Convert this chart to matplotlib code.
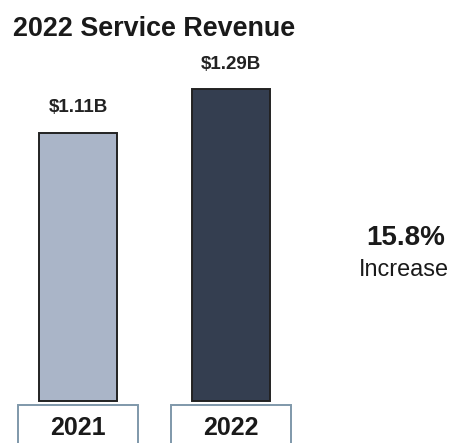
import matplotlib
matplotlib.use("Agg")
import matplotlib.pyplot as plt
from matplotlib.patches import Rectangle

plt.rcParams['font.family'] = ['Liberation Sans', 'DejaVu Sans']

title = "2022 Service Revenue"
categories = ["2021", "2022"]
values = [1.11, 1.29]
value_labels = ["$1.11B", "$1.29B"]
bar_colors = ["#aab5c8", "#343e50"]
change_pct = "15.8%"
change_word = "Increase"

fig = plt.figure(figsize=(4.56, 4.43), dpi=100)
ax = fig.add_axes([0, 0, 1, 1])
ax.set_xlim(-0.51, 2.47)
ax.set_ylim(-0.1736, 1.658)
ax.axis('off')

x = list(range(len(categories)))
ax.bar(x, values, width=0.51, color=bar_colors, edgecolor="#222222", linewidth=1.4)
for xi, v, lab in zip(x, values, value_labels):
    ax.text(xi, v + 0.103, lab, ha='center', va='center', fontsize=13.5, fontweight='bold', color='#222222')
    ax.add_patch(Rectangle((xi - 0.39, -0.25), 0.78, 0.233, facecolor='white',
                           edgecolor='#7f98aa', linewidth=1.4, clip_on=False))
for xi, c in zip(x, categories):
    ax.text(xi, -0.11, c, ha='center', va='center', fontsize=18, fontweight='bold', color='#1a1a1a')

fig.text(13/456, 1 - 29/443, title, ha='left', va='center', fontsize=19.4, fontweight='bold', color='#1a1a1a')
fig.text(406/456, 1 - 238/443, change_pct, ha='center', va='center', fontsize=20, fontweight='bold', color='#1a1a1a')
fig.text(404/456, 1 - 270/443, change_word, ha='center', va='center', fontsize=16.8, color='#1a1a1a')

fig.savefig("out.png", dpi=100, facecolor='white')
